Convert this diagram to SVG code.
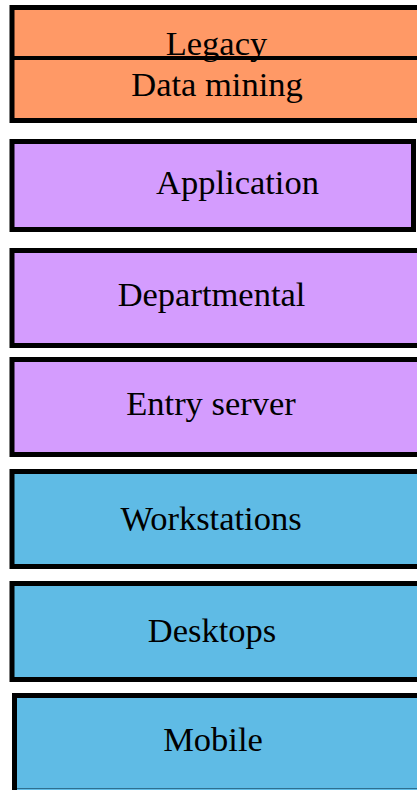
<svg xmlns="http://www.w3.org/2000/svg" width="417" height="790" viewBox="0 0 417 790">
<style>
.box{stroke:#000;stroke-width:5}
.o{fill:#FF9966}
.p{fill:#D49CFE}
.b{fill:#5FBBE5}
text{font-family:"Liberation Serif","Times New Roman",serif;font-size:34.5px;fill:#000;text-anchor:middle}
</style>
<rect width="417" height="790" fill="#fff"/>
<g id="legacy">
<rect class="box o" x="12" y="7.5" width="420" height="113"/>
<line x1="12" y1="58" x2="432" y2="58" stroke="#000" stroke-width="4"/>
<text x="216.5" y="55">Legacy</text>
</g>
<g id="data-mining">
<text x="217" y="95.5">Data mining</text>
</g>
<g id="application">
<rect class="box p" x="12" y="141.5" width="401.5" height="88"/>
<text x="237.5" y="194">Application</text>
</g>
<g id="departmental">
<rect class="box p" x="12" y="250.5" width="420" height="95"/>
<text x="211.5" y="305.5">Departmental</text>
</g>
<g id="entry-server">
<rect class="box p" x="12" y="359.5" width="420" height="95"/>
<text x="211" y="415">Entry server</text>
</g>
<g id="workstations">
<rect class="box b" x="12" y="471.5" width="420" height="95"/>
<text x="211" y="530">Workstations</text>
</g>
<g id="desktops">
<rect class="box b" x="12" y="583.5" width="420" height="96"/>
<text x="212" y="642">Desktops</text>
</g>
<g id="mobile">
<rect class="box b" x="14.5" y="695.5" width="420" height="100"/>
<line x1="17" y1="788.5" x2="417" y2="788.5" stroke="#2F6F8F" stroke-width="1"/>
<text x="213" y="751">Mobile</text>
</g>
<g id="connectors"></g>
</svg>
